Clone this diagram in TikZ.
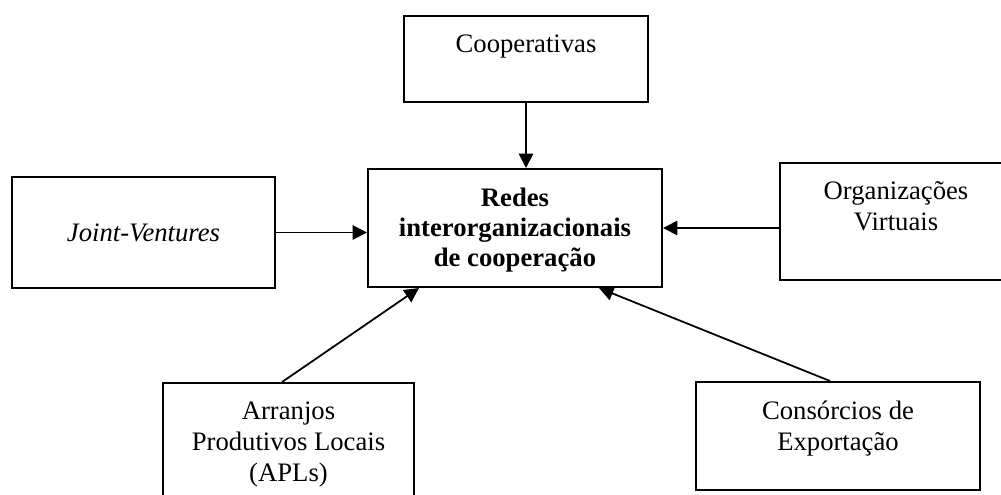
\documentclass[tikz,border=0pt]{standalone}
\usepackage{fontspec}
\setmainfont{Liberation Serif}
\usetikzlibrary{arrows.meta}
\tikzset{
  formbox/.style={draw=black, line width=0.9pt, rectangle, inner sep=0pt},
  boxtext/.style={font=\fontsize{12}{13.8}\selectfont, align=center, inner sep=0pt},
  toptext/.style={boxtext, anchor=north, yshift=-8.8pt},
  feed/.style={line width=0.8pt, -{Triangle[length=6.5pt, width=6.5pt]}},
}

\begin{document}
\begin{tikzpicture}[x=0.45pt, y=-0.45pt]
\useasboundingbox (0,0) rectangle (1001,494);
% boxes
\node[formbox, minimum width=109.8pt, minimum height=38.7pt] (coop) at (526,59) {};
\node[formbox, minimum width=132.3pt, minimum height=53.1pt] (redes) at (515,228) {};
\node[formbox, minimum width=118.35pt, minimum height=49.95pt] (jv) at (143.5,232.5) {};
\node[formbox, minimum width=104.4pt, minimum height=52.65pt] (org) at (896,221.5) {};
\node[formbox, minimum width=112.95pt, minimum height=57.15pt] (apl) at (288.5,446.5) {};
\node[formbox, minimum width=127.8pt, minimum height=48.6pt] (cons) at (838,436) {};
% texts
\node[toptext] (coopt) at (coop.north) {Cooperativas};
\node[toptext, font=\fontsize{12}{13.4}\selectfont\bfseries] (redest) at (redes.north) {Redes\\interorganizacionais\\de cooperação};
\node[boxtext, font=\fontsize{12}{13.8}\selectfont\itshape] (jvt) at (jv.center) {Joint-Ventures};
\node[toptext] (orgt) at (org.north) {Organizações\\Virtuais};
\node[toptext] (aplt) at (apl.north) {Arranjos\\Produtivos Locais\\(APLs)};
\node[toptext] (const) at (cons.north) {Consórcios de\\Exportação};
% arrows
\draw[feed] (coop.south) -- (coop.south |- redes.north);
\draw[feed] (jv.east) -- (jv.east -| redes.west);
\draw[feed] (org.west |- redes.east) -- (redes.east);
\draw[feed] ([xshift=-2.9pt]apl.north) -- ([xshift=23.4pt]redes.south west);
\draw[feed] ([xshift=-3.6pt]cons.north) -- ([xshift=-28.8pt]redes.south east);
\end{tikzpicture}
\end{document}
